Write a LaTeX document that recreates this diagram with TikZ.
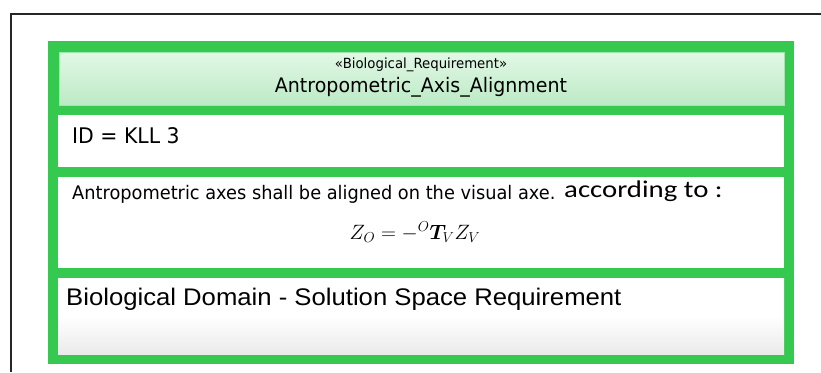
\documentclass[tikz,border=0pt]{standalone}
\usepackage{fontspec}
\usepackage{bm}
\usepackage{graphicx}
\newfontfamily\tahfont[FakeStretch=0.95]{DejaVu Sans}
\newfontfamily\arifont{Liberation Sans}
\newfontfamily\calfont{Carlito}
\definecolor{umlgreen}{HTML}{35C94F}
\definecolor{hdrtop}{HTML}{E2F8E6}
\definecolor{hdrbot}{HTML}{BCEAC5}
\definecolor{hdrline}{HTML}{9FE6AA}
\definecolor{botgray}{HTML}{EAEAEA}
\tikzset{
  comp/.style={draw=none, rectangle, inner sep=0pt, anchor=north west},
  txt/.style={inner sep=0pt, text=black},
}
\begin{document}
\begin{tikzpicture}[x=1pt,y=-1pt]
\useasboundingbox (0,0) rectangle (821,372);
\fill[white] (0,0) rectangle (821,372);
% outer frame
\coordinate (fb) at (10.5,372);
\coordinate (fc) at (10.5,13.5);
\coordinate (fr) at (821,13.5);
\draw[line width=2pt, color=black!85] (fb) -- (fc) -- (fr);
% green block
\node[comp, fill=umlgreen, minimum width=746pt, minimum height=323pt] (block) at (48,41) {};
\node[comp, top color=hdrtop, bottom color=hdrbot, draw=hdrline, line width=1pt, minimum width=725pt, minimum height=53pt] (hdr) at (58.5,51.5) {};
\node[comp, fill=white, minimum width=726pt, minimum height=52pt] (idc) at (58,115) {};
\node[comp, fill=white, minimum width=726pt, minimum height=91pt] (body) at (58,177) {};
\node[comp, top color=white, bottom color=botgray, middle color=white, minimum width=726pt, minimum height=76pt] (dom) at (58,278) {};
% texts
\node[txt, anchor=base] (stereo) at (421,68) {\tahfont\fontsize{14}{16}\selectfont «Biological\_Requirement»};
\node[txt, anchor=base] (title) at (421,92) {\tahfont\fontsize{20}{24}\selectfont Antropometric\_Axis\_Alignment};
\node[txt, anchor=base west] (idt) at (72,143) {\tahfont\fontsize{21.5}{26}\selectfont ID = KLL 3};
\node[txt, anchor=base west] (desc) at (72,199) {\tahfont\fontsize{18.7}{22}\selectfont Antropometric axes shall be aligned on the visual axe.};
\node[txt, anchor=base west] (acc) at (564,197) {\scalebox{1.2}[1]{\calfont\fontsize{24}{28}\selectfont according to :}};
\node[txt, anchor=base] (form) at (415,239) {\fontsize{22.5}{27}\selectfont $Z_O = -{}^{O}\bm{T}_V Z_V$};
\node[txt, anchor=base west] (domt) at (66,305) {\scalebox{1.07}[1]{\arifont\fontsize{24}{28}\selectfont Biological Domain - Solution Space Requirement}};
\end{tikzpicture}
\end{document}
